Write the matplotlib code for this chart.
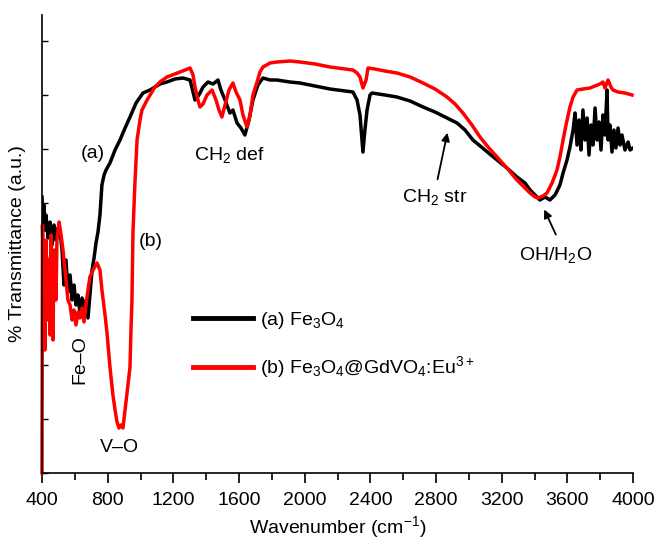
import matplotlib
matplotlib.use('Agg')
import matplotlib.pyplot as plt
from matplotlib.lines import Line2D

plt.rcParams['font.family'] = ['Liberation Sans', 'DejaVu Sans']
plt.rcParams['mathtext.fontset'] = 'custom'
plt.rcParams['mathtext.rm'] = 'Liberation Sans'
plt.rcParams['mathtext.it'] = 'Liberation Sans:italic'
plt.rcParams['mathtext.bf'] = 'Liberation Sans:bold'
plt.rcParams['mathtext.default'] = 'regular'

# (a) Fe3O4 : wavenumber (cm-1) and transmittance (a.u.)
wn_a = [400, 406, 412, 418, 424, 437, 449, 461, 473, 485, 497, 510, 522, 534, 546,
        558, 571, 583, 595, 607, 619, 631, 644, 656, 668, 680, 692, 705, 717, 729,
        741, 753, 765, 778, 790, 814, 845, 875, 906, 936, 973, 1015, 1058, 1119,
        1161, 1210, 1259, 1302, 1332, 1356, 1381, 1411, 1442, 1472, 1490, 1515,
        1533, 1545, 1563, 1588, 1612, 1636, 1661, 1685, 1715, 1746, 1789, 1831,
        1910, 1971, 2063, 2154, 2246, 2294, 2319, 2337, 2349, 2355, 2367, 2380,
        2398, 2410, 2489, 2562, 2642, 2721, 2794, 2867, 2928, 2977, 3025, 3098,
        3172, 3232, 3293, 3342, 3373, 3409, 3433, 3464, 3494, 3525, 3555, 3574,
        3598, 3616, 3635, 3647, 3659, 3671, 3683, 3695, 3708, 3720, 3732, 3744,
        3756, 3769, 3781, 3793, 3805, 3817, 3829, 3842, 3848, 3860, 3872, 3884,
        3896, 3909, 3921, 3933, 3951, 3970, 3982, 4000]
t_a = [276, 251, 268, 243, 258, 235, 251, 228, 248, 233, 245, 241, 223, 188, 213,
       181, 198, 173, 188, 168, 178, 161, 175, 158, 173, 155, 178, 203, 215, 230,
       241, 258, 288, 298, 303, 310, 323, 333, 345, 356, 370, 380, 383, 389,
       391, 394, 395, 393, 373, 378, 386, 391, 389, 393, 383, 373,
       365, 360, 363, 350, 345, 338, 353, 373, 388, 395, 393, 393,
       391, 390, 387, 384, 382, 381, 373, 358, 333, 321, 343, 363,
       378, 380, 378, 376, 372, 366, 361, 355, 350, 343, 333, 323,
       313, 305, 296, 290, 283, 277, 273, 276, 273, 278, 288, 300,
       313, 326, 343, 360, 328, 353, 323, 363, 333, 355, 318, 348,
       328, 365, 333, 351, 323, 358, 338, 383, 333, 348, 321, 343,
       325, 345, 328, 338, 323, 331, 323, 325]

# (b) Fe3O4@GdVO4:Eu3+
wn_b = [400, 403, 412, 418, 424, 437, 443, 449, 455, 467, 473, 485, 491, 504, 516,
        528, 546, 558, 571, 583, 595, 607, 619, 631, 644, 656, 668, 680, 692, 711,
        735, 753, 765, 784, 796, 814, 832, 845, 857, 869, 881, 893, 906, 918, 936,
        942, 948, 954, 966, 979, 997, 1009, 1040, 1088, 1119, 1161, 1210, 1241,
        1271, 1302, 1320, 1332, 1350, 1362, 1381, 1405, 1436, 1460, 1478, 1496,
        1515, 1539, 1563, 1582, 1606, 1624, 1649, 1667, 1685, 1710, 1728, 1746,
        1789, 1831, 1911, 1972, 2063, 2154, 2246, 2294, 2319, 2337, 2355, 2374,
        2386, 2428, 2489, 2562, 2642, 2721, 2794, 2867, 2916, 2964, 3019, 3068,
        3117, 3172, 3232, 3293, 3342, 3373, 3403, 3421, 3452, 3476, 3507, 3537,
        3555, 3574, 3592, 3616, 3635, 3659, 3695, 3738, 3769, 3799, 3817, 3829,
        3848, 3866, 3878, 3909, 3951, 3994]
t_b = [0, 248, 173, 123, 233, 153, 213, 138, 238, 133, 223, 173, 233, 251, 238,
       223, 193, 173, 168, 153, 163, 148, 161, 155, 165, 151, 168, 183, 196, 203,
       210, 203, 183, 158, 140, 106, 78, 63, 51, 45, 48, 45, 63, 80, 106,
       143, 173, 240, 290, 333, 353, 363, 373, 386, 391, 396, 399, 401,
       403, 405, 398, 386, 373, 366, 369, 378, 383, 373, 363, 356,
       368, 383, 390, 381, 373, 358, 346, 358, 378, 391, 401, 406,
       410, 411, 412, 411, 409, 406, 404, 403, 400, 396, 385, 393,
       405, 404, 402, 400, 396, 390, 384, 376, 369, 360, 348, 336,
       326, 316, 305, 293, 285, 280, 276, 275, 277, 280, 290, 303,
       316, 333, 348, 366, 376, 383, 384, 385, 387, 389, 391, 385,
       393, 386, 383, 381, 380, 378]

x_major = [400, 800, 1200, 1600, 2000, 2400, 2800, 3200, 3600, 4000]
x_minor = [600, 1000, 1400, 1800, 2200, 2600, 3000, 3400, 3800]
y_ticks = [0, 54, 108, 162, 216, 270, 324, 378, 432]

legend_labels = ['(a) Fe$_3$O$_4$', '(b) Fe$_3$O$_4$@GdVO$_4$:Eu$^{3+}$']

fig = plt.figure(figsize=(6.58, 5.40), dpi=100)
ax = fig.add_axes([42/658, 67/540, 591/658, 458/540])

ax.plot(wn_a, t_a, color='black', lw=2.5, solid_joinstyle='round')
ax.plot(wn_b, t_b, color='#ff0000', lw=2.5, solid_joinstyle='round', clip_on=False)

ax.set_xlim(400, 4000)
ax.set_ylim(0, 458)
ax.set_xticks(x_major)
ax.set_xticks(x_minor, minor=True)
ax.set_yticks(y_ticks)
ax.set_yticklabels([])
ax.tick_params(axis='x', which='major', direction='out', length=7, width=1.2,
               labelsize=14, pad=7)
ax.tick_params(axis='x', which='minor', direction='out', length=5, width=1.2)
ax.tick_params(axis='y', which='major', direction='in', length=4, width=1.0)
for s in ['top', 'right']:
    ax.spines[s].set_visible(False)
for s in ['left', 'bottom']:
    ax.spines[s].set_linewidth(1.2)

ax.set_xlabel('Wavenumber (cm$^{-1}$)', fontsize=14, labelpad=3)
ax.set_ylabel('% Transmittance (a.u.)', fontsize=14, labelpad=8)

fs = 14
ax.text(711, 320, '(a)', fontsize=fs, ha='center', va='center')
ax.text(1064, 232, '(b)', fontsize=fs, ha='center', va='center')
ax.text(1539, 318, 'CH$_2$ def', fontsize=fs, ha='center', va='center')
ax.text(2794, 276, 'CH$_2$ str', fontsize=fs, ha='center', va='center')
ax.text(3531, 218, 'OH/H$_2$O', fontsize=fs, ha='center', va='center')
ax.text(631, 113, 'Fe–O', fontsize=fs, ha='center', va='center', rotation=90)
ax.text(869, 26, 'V–O', fontsize=fs, ha='center', va='center')

ax.annotate('', xy=(2873, 343), xytext=(2806, 291),
            arrowprops=dict(arrowstyle='-|>', color='black', lw=1.3, mutation_scale=12))
ax.annotate('', xy=(3452, 266), xytext=(3537, 236),
            arrowprops=dict(arrowstyle='-|>', color='black', lw=1.3, mutation_scale=12))

handles = [Line2D([], [], color='black', lw=3.5), Line2D([], [], color='#ff0000', lw=3.5)]
ax.legend(handles, legend_labels, loc='center left', bbox_to_anchor=(0.2555, 0.279),
          frameon=False, handlelength=3.1, handletextpad=0.35, labelspacing=1.2,
          borderpad=0, borderaxespad=0, fontsize=fs)

fig.savefig('out.png', dpi=100)
